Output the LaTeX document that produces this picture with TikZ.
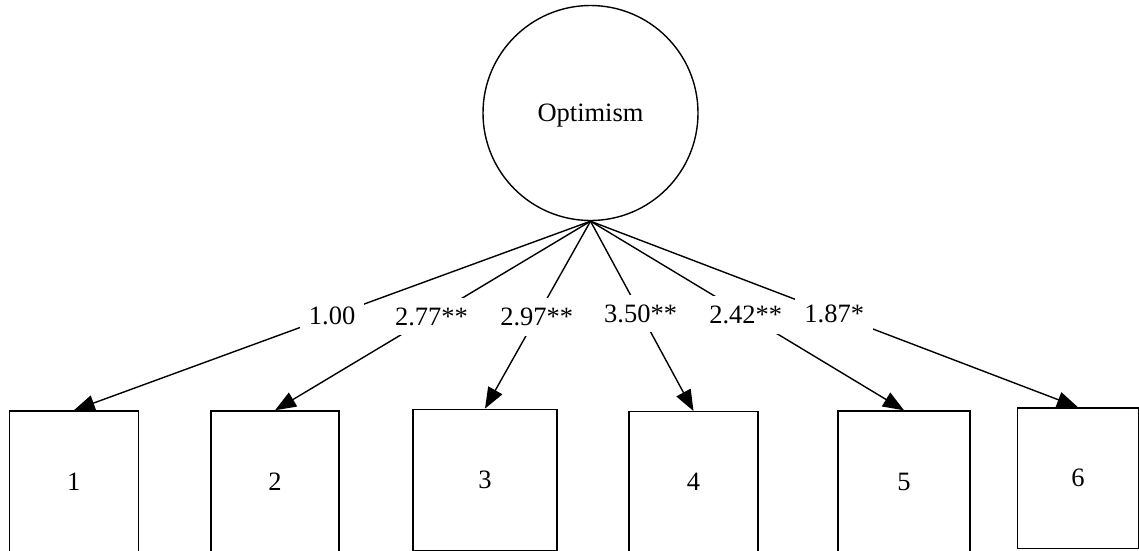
\documentclass[tikz,border=0pt]{standalone}
\usepackage{fontspec}
\setmainfont{Liberation Serif}
\usetikzlibrary{arrows.meta}
\begin{document}
\begin{tikzpicture}[x=1pt,y=-1pt,line width=1.4pt,
  every node/.style={font=\fontsize{26.5}{31}\selectfont},
  latent/.style={draw,circle,minimum size=215pt,inner sep=0pt,text depth=0pt},
  manifest/.style={draw,rectangle,minimum height=141pt,inner sep=0pt},
  load/.style={-{Triangle[length=21pt,width=16pt]}},
  coef/.style={fill=white,inner xsep=9pt,inner ysep=10pt,text height=17.5pt,text depth=0pt}]
\useasboundingbox (0,0) rectangle (1139,550);
\node[latent] (opt) at (590.5,113) {Optimism};
\node[manifest,minimum width=129pt] (b1) at (73.8,481.5) {1};
\node[manifest,minimum width=128pt] (b2) at (275,481.5) {2};
\node[manifest,minimum width=144pt] (b3) at (485,479.8) {3};
\node[manifest,minimum width=129pt] (b4) at (693.5,482.2) {4};
\node[manifest,minimum width=132pt] (b5) at (904,481.5) {5};
\node[manifest,minimum width=121pt,minimum height=140.5pt] (b6) at (1078,478.2) {6};
\draw[load] (opt.south) -- (b1.north) node[coef,pos=0.5] {1.00};
\draw[load] (opt.south) -- (b2.north) node[coef,pos=0.504] {2.77**};
\draw[load] (opt.south) -- (b3.north) node[coef,pos=0.51] {2.97**};
\draw[load] (opt.south) -- (b4.north) node[coef,pos=0.487] {3.50**};
\draw[load] (opt.south) -- (b5.north) node[coef,pos=0.495] {2.42**};
\draw[load] (opt.south) -- (b6.north) node[coef,pos=0.5] {1.87*};
\end{tikzpicture}
\end{document}
